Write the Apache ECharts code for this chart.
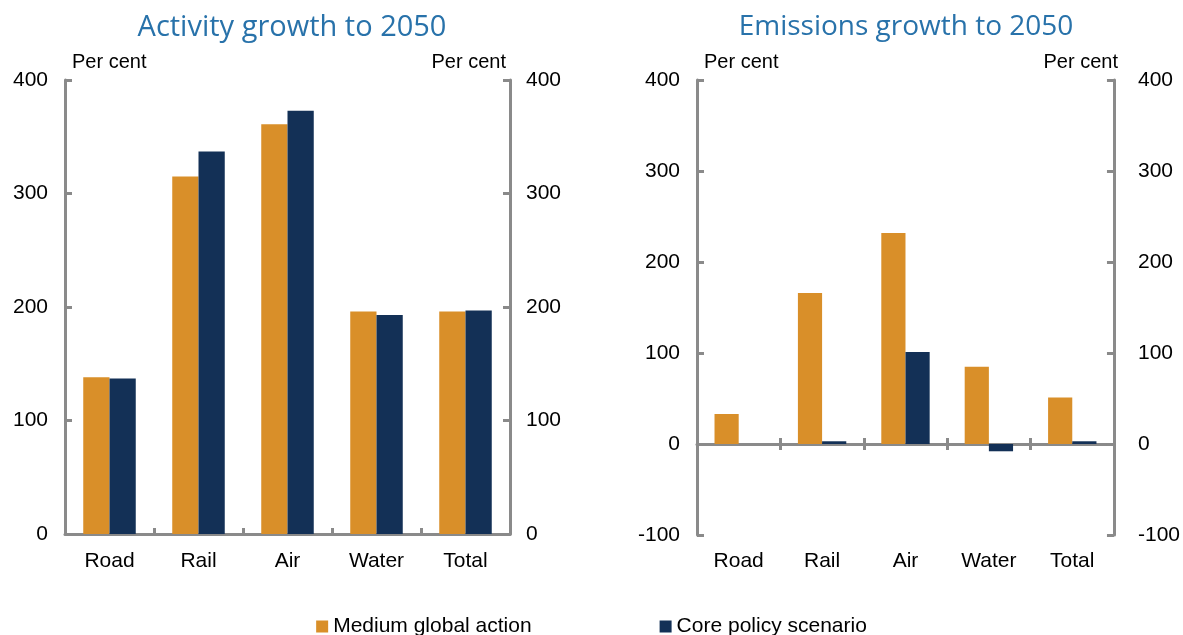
<!DOCTYPE html>
<html>
<head>
<meta charset="utf-8">
<script src="https://cdn.jsdelivr.net/npm/echarts@6/dist/echarts.min.js"></script>
<style>
html,body{margin:0;padding:0;background:#fff;}
#c{width:1183px;height:635px;}
</style>
</head>
<body>
<div id="c"></div>
<script>
const categories = ['Road', 'Rail', 'Air', 'Water', 'Total'];
const seriesNames = ['Medium global action', 'Core policy scenario'];
const activityMedium = [138, 315, 361, 196, 196];
const activityCore = [137, 337, 373, 193, 197];
const emissionsMedium = [33, 166, 232, 85, 51];
const emissionsCore = [null, 3, 101, -8, 3];
const titles = ['Activity growth to 2050', 'Emissions growth to 2050'];
const unitLabel = 'Per cent';

const ORANGE = '#D98F29';
const NAVY = '#133056';
const AXIS = '#8a8a8a';
const FONT = '"Liberation Sans", Arial, sans-serif';

const chart = echarts.init(document.getElementById('c'), null, {renderer: 'canvas'});

const lineStyle = {color: AXIS, width: 3};
const labelStyle = {color: '#000', fontSize: 21, fontFamily: FONT};

function yAxisPair(grid, min, max) {
  return [
    {
      type: 'value', gridIndex: grid, position: 'left', min: min, max: max, interval: 100,
      name: unitLabel, nameLocation: 'end', nameGap: 8,
      nameTextStyle: {color: '#000', fontSize: 20, fontFamily: FONT, align: 'left', verticalAlign: 'bottom', padding: [0, 0, 0, 7]},
      axisLine: {show: true, lineStyle: lineStyle},
      axisTick: {show: true, inside: true, length: 7, lineStyle: lineStyle},
      axisLabel: Object.assign({margin: 17}, labelStyle),
      splitLine: {show: false}
    },
    {
      type: 'value', gridIndex: grid, position: 'right', min: min, max: max, interval: 100,
      name: unitLabel, nameLocation: 'end', nameGap: 8,
      nameTextStyle: {color: '#000', fontSize: 20, fontFamily: FONT, align: 'right', verticalAlign: 'bottom', padding: [0, grid === 0 ? 4 : -4, 0, 0]},
      axisLine: {show: true, lineStyle: lineStyle},
      axisTick: {show: true, inside: true, length: 7, lineStyle: lineStyle},
      axisLabel: Object.assign({margin: grid === 0 ? 16 : 24}, labelStyle),
      splitLine: {show: false}
    }
  ];
}

const option = {
  backgroundColor: '#fff',
  animation: false,
  title: [
    {text: titles[0], left: 287, top: 8, textAlign: 'center',
     textStyle: {color: '#2872AA', fontSize: 29, fontWeight: 'normal', fontFamily: '"Open Sans", sans-serif'}},
    {text: titles[1], left: 901, top: 8, textAlign: 'center',
     textStyle: {color: '#2872AA', fontSize: 28, fontWeight: 'normal', fontFamily: '"Open Sans", sans-serif'}}
  ],
  legend: {
    bottom: -7, left: 'center', itemWidth: 12, itemHeight: 12, itemGap: 128,
    icon: 'rect',
    textStyle: {color: '#000', fontSize: 21, fontFamily: FONT, padding: [0, 0, 0, 0]},
    data: seriesNames
  },
  grid: [
    {left: 65, right: 673, top: 80, bottom: 101},
    {left: 697, right: 66, top: 80, bottom: 100}
  ],
  xAxis: [
    {
      type: 'category', gridIndex: 0, data: categories,
      axisLine: {show: true, lineStyle: lineStyle},
      axisTick: {show: true, inside: true, length: 6, lineStyle: lineStyle},
      axisLabel: Object.assign({margin: 17}, labelStyle)
    },
    {
      type: 'category', gridIndex: 1, data: categories, position: 'bottom',
      axisLine: {show: true, onZero: true, lineStyle: lineStyle},
      axisTick: {show: true, inside: true, length: 6, lineStyle: lineStyle},
      axisLabel: {show: false}
    },
    {
      type: 'category', gridIndex: 1, data: categories, position: 'bottom',
      axisLine: {show: false, onZero: true, lineStyle: lineStyle},
      axisTick: {show: true, inside: false, length: 6, lineStyle: lineStyle},
      axisLabel: {show: false}
    },
    {
      type: 'category', gridIndex: 1, data: categories, position: 'bottom',
      axisLine: {show: false, onZero: false},
      axisTick: {show: false},
      axisLabel: Object.assign({margin: 16}, labelStyle)
    }
  ],
  yAxis: [].concat(yAxisPair(0, 0, 400), yAxisPair(1, -100, 400)),
  series: [
    {name: seriesNames[0], type: 'bar', xAxisIndex: 0, yAxisIndex: 0, data: activityMedium,
     itemStyle: {color: ORANGE}, barGap: '0%', barCategoryGap: '41%'},
    {name: seriesNames[1], type: 'bar', xAxisIndex: 0, yAxisIndex: 0, data: activityCore,
     itemStyle: {color: NAVY}, barGap: '0%', barCategoryGap: '41%'},
    {name: seriesNames[0], type: 'bar', xAxisIndex: 1, yAxisIndex: 2, data: emissionsMedium,
     itemStyle: {color: ORANGE}, barGap: '0%', barCategoryGap: '42%'},
    {name: seriesNames[1], type: 'bar', xAxisIndex: 1, yAxisIndex: 2, data: emissionsCore,
     itemStyle: {color: NAVY}, barGap: '0%', barCategoryGap: '42%'}
  ]
};
chart.setOption(option);
</script>
</body>
</html>
